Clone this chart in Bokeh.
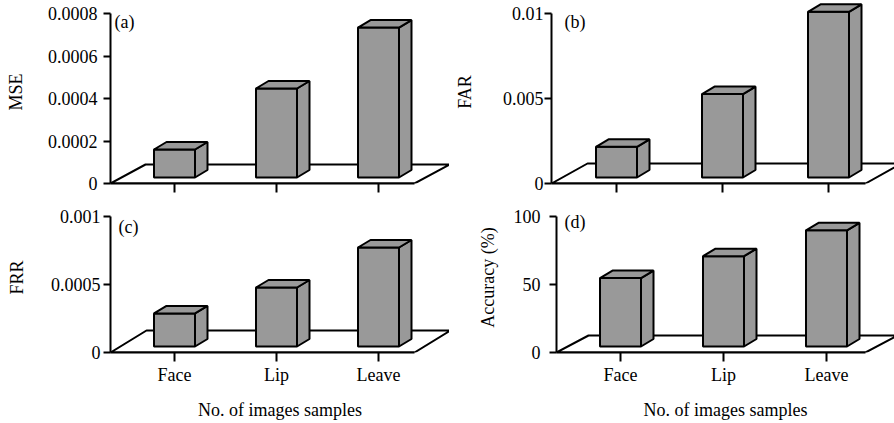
from bokeh.plotting import figure
from bokeh.models import Label, FixedTicker, Range1d
from bokeh.layouts import row, column
from bokeh.embed import file_html
from bokeh.resources import INLINE

# ---------------- data ----------------
categories = ["Face", "Lip", "Leave"]
cat_pos = [1, 2, 3]
mse = [0.00016, 0.000447, 0.000734]
far = [0.00216, 0.00526, 0.0101]
frr = [0.000287, 0.000478, 0.000772]
acc = [54.7, 70.8, 89.8]

mse_ticks = [0, 0.0002, 0.0004, 0.0006, 0.0008]
mse_tick_labels = ["0", "0.0002", "0.0004", "0.0006", "0.0008"]
far_ticks = [0, 0.005, 0.01]
far_tick_labels = ["0", "0.005", "0.01"]
frr_ticks = [0, 0.0005, 0.001]
frr_tick_labels = ["0", "0.0005", "0.001"]
acc_ticks = [0, 50, 100]
acc_tick_labels = ["0", "50", "100"]

x_title = "No. of images samples"
FONT = "Liberation Serif"
GRAY = "#999999"


def make_panel(values, yticks, ylabels, ytitle, tag, L, show_x):
    W, H = L["W"], L["H"]
    fw = W - L["BL"] - L["BR"]
    fh = H - L["BT"] - L["BB"]
    unit = L["unit"]
    ymax = yticks[-1]
    ppy = L["pxmax"] / ymax
    x0 = 1 - L["t1"] / unit
    x1 = x0 + fw / unit
    y1 = fh / ppy

    p = figure(width=W, height=H, output_backend="svg", toolbar_location=None,
               x_range=Range1d(x0, x1), y_range=Range1d(0, y1),
               min_border_left=L["BL"], min_border_right=L["BR"],
               min_border_top=L["BT"], min_border_bottom=L["BB"])
    p.outline_line_color = None
    p.grid.visible = False
    p.background_fill_color = "white"
    p.border_fill_color = "white"

    # floor
    xr = x0 + L["ffront"] / unit
    fdx = L["fdx"] / unit
    fdy = L["fdy"] / ppy
    p.patch([x0, xr, xr + fdx, x0 + fdx], [0, 0, fdy, fdy],
            fill_color=None, line_color="black", line_width=2)

    # bars
    hw = 20.5 / unit
    bdx = 12.5 / unit
    bdy = 7.5 / ppy
    base = 6 / ppy
    lefts = [c - hw for c in cat_pos]
    rights = [c + hw for c in cat_pos]
    p.quad(left=lefts, right=rights, bottom=[base] * len(values), top=values,
           fill_color=GRAY, line_color="black", line_width=2)
    side_xs, side_ys, top_xs, top_ys = [], [], [], []
    for l, r, v in zip(lefts, rights, values):
        side_xs.append([r, r + bdx, r + bdx, r])
        side_ys.append([base, base + bdy, v + bdy, v])
        top_xs.append([l, r, r + bdx, l + bdx])
        top_ys.append([v, v, v + bdy, v + bdy])
    p.patches(side_xs, side_ys, fill_color=GRAY, line_color="black", line_width=2)
    p.patches(top_xs, top_ys, fill_color=GRAY, line_color="black", line_width=2)

    # y axis
    ya = p.yaxis[0]
    ya.ticker = FixedTicker(ticks=yticks)
    ya.major_label_overrides = {t: s for t, s in zip(yticks, ylabels)}
    ya.bounds = (0, ymax)
    ya.minor_tick_line_color = None
    ya.major_tick_in = 0
    ya.major_tick_out = 7
    ya.major_tick_line_width = 2
    ya.axis_line_width = 2
    ya.major_label_standoff = L["lstand"]
    ya.major_label_text_font = FONT
    ya.major_label_text_font_size = "18px"
    ya.major_label_text_color = "black"
    ya.axis_label = ytitle
    ya.axis_label_text_font = FONT
    ya.axis_label_text_font_size = "18px"
    ya.axis_label_text_font_style = "normal"
    ya.axis_label_text_color = "black"
    ya.axis_label_standoff = L["astand"]

    # x axis
    xa = p.xaxis[0]
    xa.bounds = (x0, xr)
    xa.axis_line_width = 2
    if show_x:
        xa.ticker = FixedTicker(ticks=cat_pos)
        xa.major_label_overrides = {c: s for c, s in zip(cat_pos, categories)}
        xa.minor_tick_line_color = None
        xa.major_tick_in = 0
        xa.major_tick_out = 9
        xa.major_tick_line_width = 2
        xa.major_label_text_font = FONT
        xa.major_label_text_color = "black"
        xa.major_label_text_font_size = "18px"
        xa.major_label_standoff = 3
        xa.axis_label = x_title
        xa.axis_label_text_font = FONT
        xa.axis_label_text_font_size = "18px"
        xa.axis_label_text_font_style = "normal"
        xa.axis_label_text_color = "black"
        xa.axis_label_standoff = 12
    else:
        # unlabeled ticks at the categories
        xa.ticker = FixedTicker(ticks=[], minor_ticks=cat_pos)
        xa.minor_tick_in = 0
        xa.minor_tick_out = 9
        xa.minor_tick_line_width = 2
        xa.minor_tick_line_color = "black"
        xa.major_label_standoff = 0

    p.add_layout(Label(x=x0 + L["tagx"] / unit, y=L["tagy"] / ppy, text=tag,
                       text_font=FONT, text_font_size="18px", text_color="black",
                       text_align="left", text_baseline="middle"))
    return p


La = dict(W=449, H=200, BL=110, BR=0, BT=0, BB=17, unit=102, t1=64, pxmax=170,
          ffront=304, fdx=35, fdy=19, lstand=6, astand=19, tagx=4, tagy=162)
Lb = dict(W=445, H=200, BL=102, BR=0, BT=0, BB=17, unit=106, t1=65, pxmax=170,
          ffront=314, fdx=36, fdy=20, lstand=1, astand=25, tagx=13, tagy=162)
Lc = dict(W=449, H=223, BL=110, BR=0, BT=2, BB=71, unit=102, t1=64, pxmax=136,
          ffront=304, fdx=36, fdy=22, lstand=3, astand=21, tagx=8, tagy=126)
Ld = dict(W=445, H=223, BL=107, BR=0, BT=2, BB=71, unit=103, t1=64, pxmax=136,
          ffront=309, fdx=32, fdy=17, lstand=9, astand=13, tagx=8, tagy=131)

pa = make_panel(mse, mse_ticks, mse_tick_labels, "MSE", "(a)", La, False)
pb = make_panel(far, far_ticks, far_tick_labels, "FAR", "(b)", Lb, False)
pc = make_panel(frr, frr_ticks, frr_tick_labels, "FRR", "(c)", Lc, True)
pd = make_panel(acc, acc_ticks, acc_tick_labels, "Accuracy (%)", "(d)", Ld, True)

layout = column(row(pa, pb), row(pc, pd))
open("out.html", "w").write(file_html(layout, INLINE))
